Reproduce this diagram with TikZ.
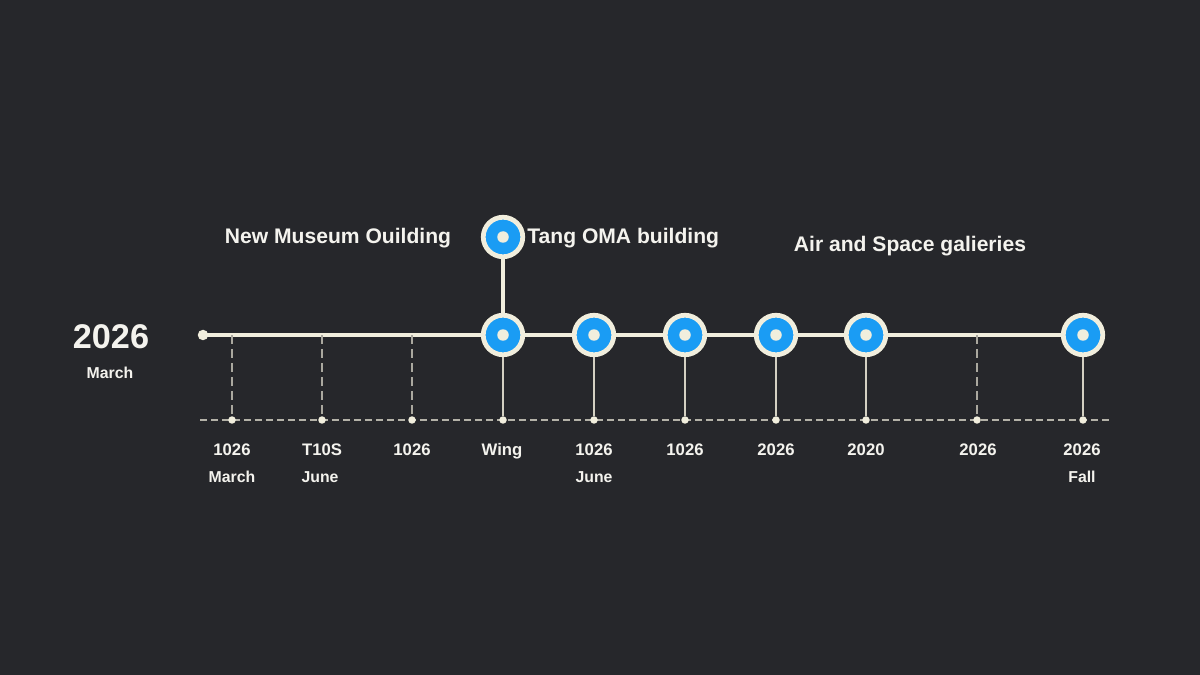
\documentclass[tikz,border=0pt]{standalone}
\usepackage{fontspec}
\setmainfont{Liberation Sans}
\definecolor{bg}{HTML}{26272B}
\definecolor{cream}{HTML}{F1EEDD}
\definecolor{txt}{HTML}{F4F3EE}
\definecolor{blu}{HTML}{1A9CF4}
\pgfdeclarelayer{bgl}
\pgfdeclarelayer{lines}
\pgfsetlayers{bgl,lines,main}
\tikzset{
  milestone/.style={circle, fill=blu, draw=cream, line width=2.7pt, minimum size=0.79cm, inner sep=0pt},
  core/.style={circle, fill=cream, minimum size=0.23cm, inner sep=0pt},
  tickdot/.style={circle, fill=cream, minimum size=0.15cm, inner sep=0pt},
  startdot/.style={circle, fill=cream, minimum size=0.21cm, inner sep=0pt},
  mainline/.style={draw=cream, line width=1.8pt},
  stem/.style={draw=cream!85!bg, line width=0.8pt},
  dstem/.style={draw=cream!65!bg, line width=0.6pt, dash pattern=on 0.18cm off 0.1cm},
  baseline/.style={draw=cream!70!bg, line width=0.9pt, dash pattern=on 0.14cm off 0.08cm},
  lbl/.style={text=txt, anchor=base, inner sep=0pt, font=\bfseries\fontsize{9.5}{11}\selectfont},
  sublbl/.style={text=txt, anchor=base, inner sep=0pt, font=\bfseries\fontsize{9}{11}\selectfont},
  title/.style={text=txt, anchor=base, inner sep=0pt, font=\bfseries\fontsize{12}{15}\selectfont},
}
\begin{document}
\begin{tikzpicture}[x=0.02cm,y=-0.02cm]
\begin{pgfonlayer}{bgl}
\fill[bg] (0,0) rectangle (1200,675);
\end{pgfonlayer}
\useasboundingbox (0,0) rectangle (1200,675);

% start dot and milestones
\node[startdot] (s) at (203,335) {};
\node[milestone] (c1) at (503,335) {};
\node[milestone] (c2) at (594,335) {};
\node[milestone] (c3) at (685,335) {};
\node[milestone] (c4) at (776,335) {};
\node[milestone] (c5) at (866,335) {};
\node[milestone] (c6) at (1083,335) {};
\node[milestone] (t) at (503,237) {};
\foreach \n in {c1,c2,c3,c4,c5,c6,t} \node[core] (\n i) at (\n) {};

% points on the main line for dashed stems
\coordinate (m1) at (232,335);
\coordinate (m2) at (322,335);
\coordinate (m3) at (412,335);
\coordinate (m4) at (977,335);

% baseline ends and ticks
\coordinate (L) at (200,420);
\coordinate (R) at (1110,420);
\node[tickdot] (b1) at (232,420) {};
\node[tickdot] (b2) at (322,420) {};
\node[tickdot] (b3) at (412,420) {};
\node[tickdot] (b4) at (503,420) {};
\node[tickdot] (b5) at (594,420) {};
\node[tickdot] (b6) at (685,420) {};
\node[tickdot] (b7) at (776,420) {};
\node[tickdot] (b8) at (866,420) {};
\node[tickdot] (b9) at (977,420) {};
\node[tickdot] (b10) at (1083,420) {};

\begin{pgfonlayer}{lines}
\draw[baseline] (L) -- (R);
\draw[mainline] (s.center) -- (c6);
\draw[mainline] (t) -- (c1);
\draw[dstem] (m1) -- (b1);
\draw[dstem] (m2) -- (b2);
\draw[dstem] (m3) -- (b3);
\draw[dstem] (m4) -- (b9);
\draw[stem] (c1) -- (b4);
\draw[stem] (c2) -- (b5);
\draw[stem] (c3) -- (b6);
\draw[stem] (c4) -- (b7);
\draw[stem] (c5) -- (b8);
\draw[stem] (c6) -- (b10);
\end{pgfonlayer}

% titles
\node[title] (n1) at (338,244) {New Museum Ouilding};
\node[title, anchor=base west] (n2) at (527,244) {Tang OMA building};
\node[title] (n3) at (910,252) {Air and Space galieries};

% left year
\node[text=txt, anchor=base, inner sep=0pt, font=\bfseries\fontsize{19.5}{22}\selectfont] (yr) at (111,349) {2026};
\node[sublbl] (mo) at (110,378) {March};

% bottom labels
\node[lbl] (l1) at (232,455) {1026};
\node[lbl] (l2) at (322,455) {T10S};
\node[lbl] (l3) at (412,455) {1026};
\node[lbl] (l4) at (502,455) {Wing};
\node[lbl] (l5) at (594,455) {1026};
\node[lbl] (l6) at (685,455) {1026};
\node[lbl] (l7) at (776,455) {2026};
\node[lbl] (l8) at (866,455) {2020};
\node[lbl] (l9) at (978,455) {2026};
\node[lbl] (l10) at (1082,455) {2026};
\node[sublbl] (s1) at (232,482) {March};
\node[sublbl] (s2) at (320,482) {June};
\node[sublbl] (s5) at (594,482) {June};
\node[sublbl] (s10) at (1082,482) {Fall};
\end{tikzpicture}
\end{document}
